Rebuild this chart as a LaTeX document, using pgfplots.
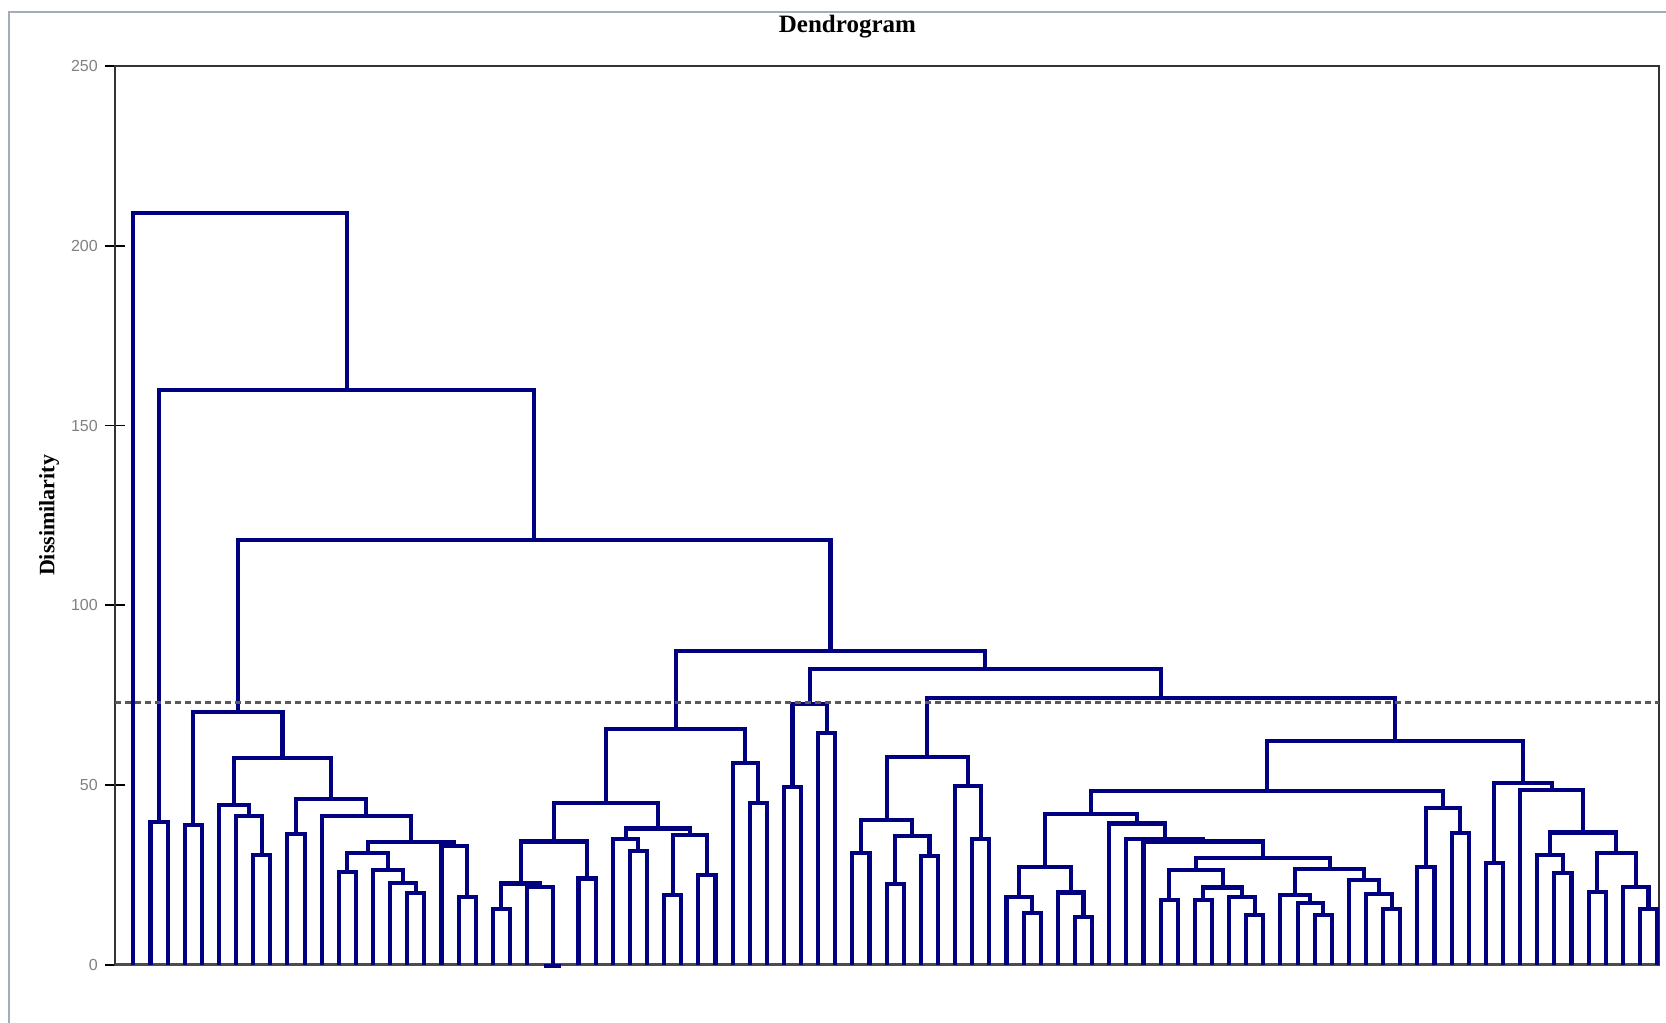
\documentclass[border=0pt]{standalone}
\usepackage{fontspec}
\setmainfont{Liberation Serif}
\setsansfont{Liberation Sans}
\usepackage{pgfplots}
\pgfplotsset{compat=1.18}
\definecolor{dendro}{RGB}{0,0,128}
\newcommand{\m}[5]{\addplot[dendro,line width=2.05pt] coordinates {(#1,#2) (#1,#3) (#4,#3) (#4,#5)};}
\begin{document}
\begin{tikzpicture}
\useasboundingbox (0,0) rectangle (833pt,511.5pt);
\draw[color={rgb,255:red,165;green,172;blue,185},line width=0.8pt] (4.6pt,0) -- (4.6pt,505.6pt) -- (833pt,505.6pt);
\begin{axis}[
  at={(57.4pt,29.1pt)}, anchor=south west,
  scale only axis, width=772pt, height=449.4pt,
  xmin=-0.083, xmax=90.1, ymin=0, ymax=250,
  xtick=\empty,
  ytick={0,50,100,150,200,250},
  ytick pos=left,
  tick align=center,
  major tick length=10pt,
  tick style={black,line width=0.8pt},
  axis line style={black!80,line width=0.9pt},
  clip=false,
  /pgf/number format/assume math mode=true,
  yticklabel style={font=\sffamily\fontsize{8}{9.6}\selectfont, text=black!50},
  title={Dendrogram},
  title style={at={(axis description cs:0.4745,1)}, anchor=base, yshift=10.6pt, font=\bfseries\fontsize{12.5}{14}\selectfont},
  ylabel={Dissimilarity},
  ylabel style={at={(axis description cs:-0.0425,0.5)}, anchor=center, font=\bfseries\fontsize{11}{13}\selectfont},
]
% bottom line
\addplot[black!70,line width=1.4pt] coordinates {(-0.083,0) (90.1,0)};
% cluster A
\m{2}{0}{39.8}{3}{0}
\m{4}{0}{38.9}{5}{0}
\m{8}{0}{30.5}{9}{0}
\m{7}{0}{41.4}{8.5}{30.5}
\m{6}{0}{44.4}{7.75}{41.4}
\m{10}{0}{36.5}{11}{0}
\m{13}{0}{25.9}{14}{0}
\m{17}{0}{19.9}{18}{0}
\m{16}{0}{22.7}{17.5}{19.9}
\m{15}{0}{26.4}{16.75}{22.7}
\m{13.5}{25.9}{31.2}{15.875}{26.4}
\m{20}{0}{18.9}{21}{0}
\m{19}{0}{33.1}{20.5}{18.9}
\m{14.6875}{31.2}{34.2}{19.75}{33.1}
\m{12}{0}{41.4}{17.21875}{34.2}
\m{10.5}{36.5}{46.0}{14.609375}{41.4}
\m{6.875}{44.4}{57.4}{12.5546875}{46.0}
\m{4.5}{38.9}{70.4}{9.71484375}{57.4}
% cluster B
\m{22}{0}{15.4}{23}{0}
\m{25}{-0.4}{-0.4}{26}{-0.4}
\m{24}{0}{21.7}{25.5}{-0.4}
\m{22.5}{15.4}{22.6}{24.75}{21.7}
\m{27}{0}{24.0}{28}{0}
\m{23.625}{22.6}{34.3}{27.5}{24.0}
\m{30}{0}{31.7}{31}{0}
\m{29}{0}{34.9}{30.5}{31.7}
\m{32}{0}{19.4}{33}{0}
\m{34}{0}{25.0}{35}{0}
\m{32.5}{19.4}{36.1}{34.5}{25.0}
\m{29.75}{34.9}{37.9}{33.5}{36.1}
\m{25.5625}{34.3}{45.1}{31.625}{37.9}
\m{37}{0}{45.1}{38}{0}
\m{36}{0}{56.2}{37.5}{45.1}
\m{28.59375}{45.1}{65.5}{36.75}{56.2}
% cluster C
\m{39}{0}{49.5}{40}{0}
\m{41}{0}{64.4}{42}{0}
\m{39.5}{49.5}{72.5}{41.5}{64.4}
% cluster D
\m{43}{0}{31.0}{44}{0}
\m{45}{0}{22.5}{46}{0}
\m{47}{0}{30.3}{48}{0}
\m{45.5}{22.5}{35.8}{47.5}{30.3}
\m{43.5}{31.0}{40.4}{46.5}{35.8}
\m{50}{0}{34.9}{51}{0}
\m{49}{0}{49.7}{50.5}{34.9}
\m{45}{40.4}{57.9}{49.75}{49.7}
% cluster E
\m{53}{0}{14.3}{54}{0}
\m{52}{0}{18.8}{53.5}{14.3}
\m{56}{0}{13.2}{57}{0}
\m{55}{0}{20.1}{56.5}{13.2}
\m{52.75}{18.8}{27.1}{55.75}{20.1}
\m{61}{0}{18.0}{62}{0}
\m{63}{0}{18.0}{64}{0}
\m{66}{0}{13.8}{67}{0}
\m{65}{0}{18.8}{66.5}{13.8}
\m{63.5}{18.0}{21.5}{65.75}{18.8}
\m{61.5}{18.0}{26.4}{64.625}{21.5}
\m{70}{0}{13.8}{71}{0}
\m{69}{0}{17.1}{70.5}{13.8}
\m{68}{0}{19.4}{69.75}{17.1}
\m{74}{0}{15.4}{75}{0}
\m{73}{0}{19.7}{74.5}{15.4}
\m{72}{0}{23.6}{73.75}{19.7}
\m{68.875}{19.4}{26.6}{72.875}{23.6}
\m{63.0625}{26.4}{29.6}{70.875}{26.6}
\m{60}{0}{34.3}{66.96875}{29.6}
\m{59}{0}{34.9}{63.484375}{34.3}
\m{58}{0}{39.3}{61.2421875}{34.9}
\m{54.25}{27.1}{41.9}{59.62109375}{39.3}
\m{76}{0}{27.3}{77}{0}
\m{78}{0}{36.6}{79}{0}
\m{76.5}{27.3}{43.5}{78.5}{36.6}
\m{56.935546875}{41.9}{48.3}{77.5}{43.5}
% cluster F
\m{80}{0}{28.2}{81}{0}
\m{84}{0}{25.6}{85}{0}
\m{83}{0}{30.5}{84.5}{25.6}
\m{86}{0}{20.3}{87}{0}
\m{89}{0}{15.4}{90}{0}
\m{88}{0}{21.7}{89.5}{15.4}
\m{86.5}{20.3}{31.2}{88.75}{21.7}
\m{83.75}{30.5}{36.8}{87.625}{31.2}
\m{82}{0}{48.6}{85.6875}{36.8}
\m{80.5}{28.2}{50.6}{83.84375}{48.6}
% upper merges
\m{67.2177734}{48.3}{62.3}{82.171875}{50.6}
\m{47.375}{57.9}{74.2}{74.6948242}{62.3}
\m{40.5}{72.5}{82.4}{61.0349121}{74.2}
\m{32.671875}{65.5}{87.2}{50.7674561}{82.4}
\m{7.1074219}{70.4}{118.2}{41.7196655}{87.2}
\m{2.5}{39.8}{159.9}{24.4135437}{118.2}
\m{1}{0}{209.2}{13.4567719}{159.9}
% cut line
\addplot[black!65,line width=1.4pt,dash pattern=on 3.3pt off 1.7pt] coordinates {(-0.083,72.9) (90.1,72.9)};
\end{axis}
\end{tikzpicture}
\end{document}
